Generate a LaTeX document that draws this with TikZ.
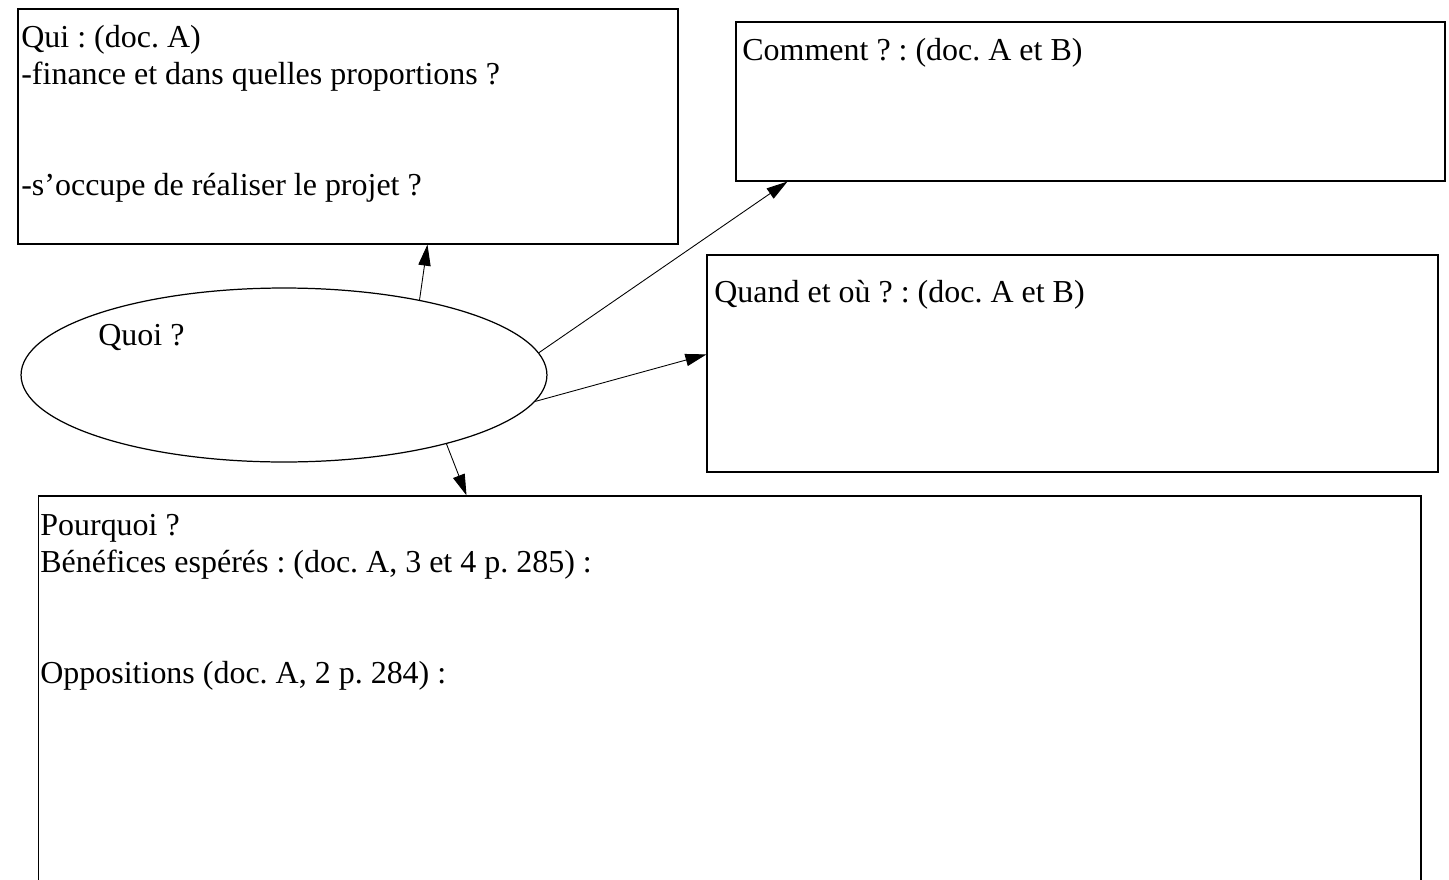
\documentclass[tikz,border=0pt]{standalone}
\usepackage{fontspec}
\setmainfont{Liberation Serif}
\usetikzlibrary{arrows.meta,shapes.geometric,calc}
\frenchspacing

\begin{document}
\begin{tikzpicture}[x=0.02cm,y=-0.02cm,
	boite/.style={draw,rectangle,line width=0.7pt,inner sep=0pt},
	bulle/.style={draw,ellipse,line width=0.7pt,inner sep=0pt,minimum width=10.52cm,minimum height=3.48cm},
	texte/.style={anchor=base west,inner sep=0pt,font=\fontsize{18.2}{22}\selectfont},
	fleche/.style={line width=0.5pt,-{Triangle[length=12pt,width=7pt]}}]
%
	\path[use as bounding box,clip] (0,0) rectangle (1449,879);
%
	\node[boite,minimum width=13.2cm,minimum height=4.7cm] (qui) at (348,126.5) {};
	\node[boite,minimum width=14.18cm,minimum height=3.18cm] (comment) at (1090.5,101.5) {};
	\node[boite,minimum width=14.62cm,minimum height=4.34cm] (quand) at (1072.5,363.5) {};
	\node[boite,minimum width=27.66cm,minimum height=8.48cm] (pourquoi) at (729.5,708) {};
	\node[bulle] (quoi) at (284,375) {};
%
	\node[texte] (qui1) at (21,47) {Qui : (doc. A)};
	\node[texte] (qui2) at (21,84) {-finance et dans quelles proportions ?};
	\node[texte] (qui3) at (21,195) {-s’occupe de réaliser le projet ?};
	\node[texte] (com1) at (742,60) {Comment ? : (doc. A et B)};
	\node[texte] (qua1) at (714,302) {Quand et où ? : (doc. A et B)};
	\node[texte] (quoi1) at (98,345) {Quoi ?};
	\node[texte] (pq1) at (40,535) {Pourquoi ?};
	\node[texte] (pq2) at (40,572) {Bénéfices espérés : (doc. A, 3 et 4 p. 285) :};
	\node[texte] (pq3) at (40,683) {Oppositions (doc. A, 2 p. 284) :};
%
	\draw[fleche] (quoi.29) -- ($(qui.south west)+(410,0)$);
	\draw[fleche] (quoi.5) -- ($(comment.south west)+(52,0)$);
	\draw[fleche] (quoi.-6) -- ($(quand.north west)+(0,100)$);
	\draw[fleche] (quoi.-23) -- ($(pourquoi.north west)+(429,0)$);
\end{tikzpicture}
\end{document}
